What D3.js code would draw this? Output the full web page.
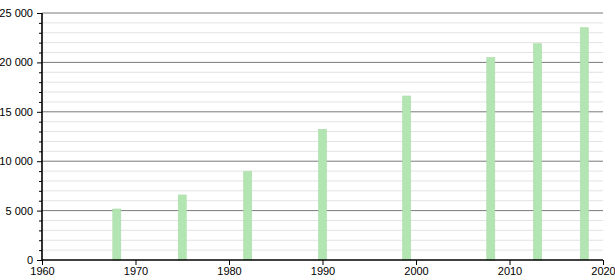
<!DOCTYPE html>
<html><head><meta charset="utf-8">
<script src="https://cdn.jsdelivr.net/npm/d3@7"></script>
<style>body{margin:0;background:#fff}svg{display:block}text{font-family:"Liberation Sans",Arial,sans-serif;font-size:11px;fill:#000}</style>
</head><body><svg id="c" width="615" height="280"></svg>
<script>
const years = [1968, 1975, 1982, 1990, 1999, 2008, 2013, 2018];
const population = [5160, 6580, 8940, 13230, 16600, 20480, 21890, 23510];
const xTicks = [1960, 1970, 1980, 1990, 2000, 2010, 2020];
const yMajor = [0, 5000, 10000, 15000, 20000, 25000];
const yMinor = d3.range(0, 25001, 1000);

const svg = d3.select("#c");
const x = d3.scaleLinear().domain([1960, 2020]).range([42, 603]);
const y = d3.scaleLinear().domain([0, 25000]).range([260, 13]);
const fmt = v => d3.format(",")(v).replace(/,/g, " ");

// minor gridlines
svg.append("g").selectAll("line").data(yMinor.filter(v => v % 5000 !== 0)).join("line")
  .attr("x1", x(1960)).attr("x2", x(2020)).attr("y1", d => y(d)).attr("y2", d => y(d))
  .attr("stroke", "#e2e2e2").attr("stroke-width", 1);
// major gridlines
svg.append("g").selectAll("line").data(yMajor.filter(v => v > 0)).join("line")
  .attr("x1", x(1960)).attr("x2", x(2020)).attr("y1", d => y(d)).attr("y2", d => y(d))
  .attr("stroke", "#7a7a7a").attr("stroke-width", 1);

// bars
svg.append("g").selectAll("rect").data(years).join("rect")
  .attr("x", (d) => x(d) - 4).attr("width", 8)
  .attr("y", (d, i) => y(population[i])).attr("height", (d, i) => y(0) - y(population[i]))
  .attr("fill", "#b2e5b2").attr("stroke", "#a8dca8").attr("stroke-width", 0.6);

// y axis
const ya = svg.append("g").attr("transform", `translate(${x(1960)},0)`)
  .call(d3.axisLeft(y).tickValues(yMajor).tickFormat(fmt).tickSize(5).tickPadding(4));
svg.append("g").attr("transform", `translate(${x(1960)},0)`)
  .call(d3.axisLeft(y).tickValues(yMinor.filter(v => v % 5000 !== 0)).tickFormat("").tickSize(3))
  .select(".domain").remove();
// x axis
const xa = svg.append("g").attr("transform", `translate(0,${y(0)})`)
  .call(d3.axisBottom(x).tickValues(xTicks).tickFormat(d3.format("d")).tickSize(5).tickPadding(2));

svg.selectAll(".domain").attr("stroke", "#000").attr("stroke-width", 1.6);
svg.selectAll(".tick line").attr("stroke", "#000");
svg.selectAll(".tick text").attr("font-size", 11).attr("fill", "#000")
  .attr("font-family", "Liberation Sans, Arial, sans-serif");
ya.select(".domain").attr("d", `M0,${y(25000)}V${y(0)}`);
xa.select(".domain").attr("d", `M${x(1960)},0H${x(2020)}`);
</script></body></html>
